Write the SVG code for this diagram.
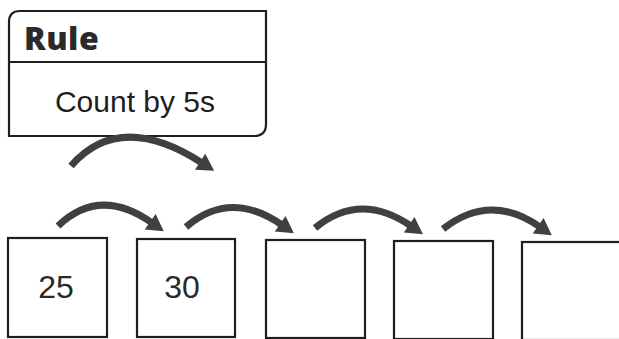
<svg xmlns="http://www.w3.org/2000/svg" width="619" height="339" viewBox="0 0 619 339">
<defs>
<marker id="ah" markerUnits="userSpaceOnUse" markerWidth="20" markerHeight="20" viewBox="0 -9 16 18" refX="2" refY="0" orient="auto">
<path d="M0,-8.5 L15,0 L0,8.5 Z" fill="#404040"/>
</marker>
<style>
.box{fill:#fff;stroke:#1e1e1e;stroke-width:2.2}
.arc{fill:none;stroke:#404040;stroke-width:7;stroke-linecap:butt;marker-end:url(#ah)}
.num{font-family:"Liberation Sans",Arial,sans-serif;font-size:32px;fill:#2a2a2a;text-anchor:middle}
</style>
</defs>
<rect width="619" height="339" fill="#fff"/>
<g id="rule">
<path class="box" d="M20,11 L266,11 L266,124 Q266,136 254,136 L9,136 L9,22 Q9,11 20,11 Z"/>
<line x1="9" y1="62" x2="266" y2="62" stroke="#1e1e1e" stroke-width="2.2"/>
<text x="24" y="50" font-family="'Open Sans','DejaVu Sans',sans-serif" font-weight="800" font-size="32" letter-spacing="0.5" fill="#2a2a2a">Rule</text>
<text x="135" y="112" font-family="'Liberation Sans',Arial,sans-serif" font-size="30" fill="#1e1e1e" text-anchor="middle">Count by 5s</text>
</g>
<g id="b1"><rect class="box" x="8" y="238" width="99" height="99"/><text class="num" x="56" y="298">25</text></g>
<g id="b2"><rect class="box" x="137" y="239" width="98" height="98"/><text class="num" x="182" y="298">30</text></g>
<g id="b3"><rect class="box" x="266" y="240" width="99" height="98"/></g>
<g id="b4"><rect class="box" x="394" y="241" width="99" height="98"/></g>
<g id="b5"><rect class="box" x="522" y="242" width="100" height="98"/></g>
<g id="connectors">
<path class="arc" d="M71,166 Q120,110 202,163"/>
<path class="arc" d="M58,226 Q100,186 152,223"/>
<path class="arc" d="M186,227 Q230,189 282,225"/>
<path class="arc" d="M315,228 Q360,191 411,226"/>
<path class="arc" d="M443,229 Q490,192 540,227"/>
</g>
</svg>
